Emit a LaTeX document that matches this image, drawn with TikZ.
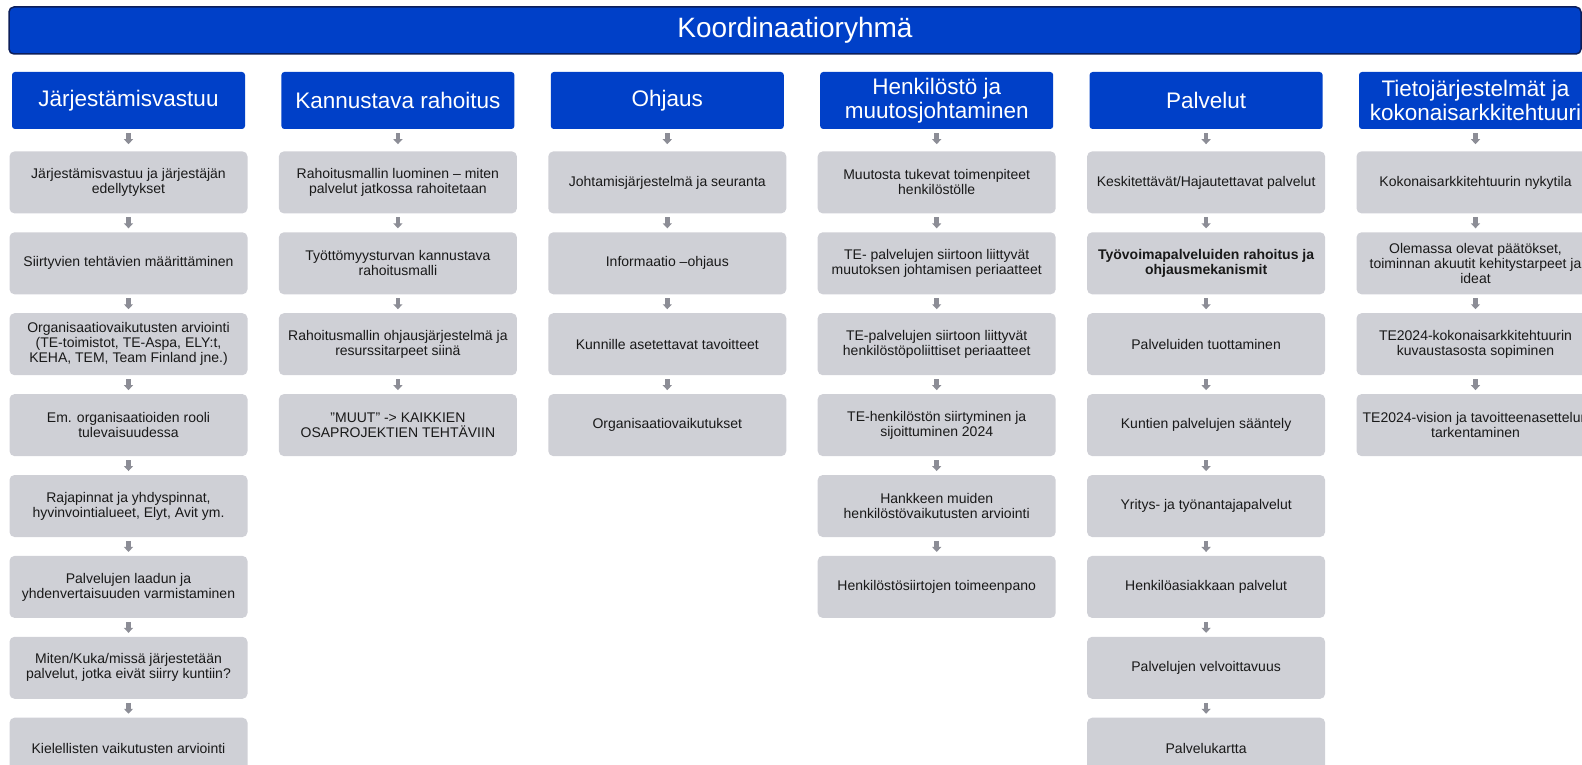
\documentclass[tikz,border=0pt]{standalone}
\usepackage{fontspec}
\setmainfont{Liberation Sans}
\usetikzlibrary{positioning,arrows.meta}
\definecolor{hblue}{RGB}{0,64,200}
\definecolor{hnavy}{RGB}{12,30,90}
\definecolor{boxgray}{RGB}{207,208,214}
\definecolor{arrowgray}{RGB}{140,141,150}
\tikzset{
    banner/.style = {
        fill = hblue,
        draw = hnavy,
        line width = 1.5pt,
        rounded corners = 5pt,
        minimum width = 1572pt,
        minimum height = 47pt,
        text = white,
        font = \fontsize{28}{30}\selectfont,
        },
    head/.style = {
        fill = hblue,
        rounded corners = 3pt,
        minimum width = 233pt,
        minimum height = 57pt,
        inner sep = 0pt,
        align = center,
        text = white,
        font = \fontsize{22.5}{24}\selectfont,
        },
    task/.style = {
        fill = boxgray,
        rounded corners = 5pt,
        minimum width = 238pt,
        minimum height = 62pt,
        inner sep = 0pt,
        align = center,
        text = black!90,
        font = \fontsize{14}{15}\selectfont,
        },
    bold task/.style = {
        task,
        font = \fontsize{14}{15}\selectfont\bfseries,
        },
    link/.style = {
        draw = arrowgray,
        line width = 4.5pt,
        -{Triangle[width=9pt,length=5pt]},
        shorten < = 3.75pt,
        shorten > = 3.75pt,
        },
    head link/.style = {
        link,
        shorten < = 4pt,
        shorten > = 7pt,
        },
}
\begin{document}
\begin{tikzpicture}[x=1pt, y=1pt, node distance=18.5pt]
    \useasboundingbox (0,0) rectangle (1582,-765);

    \node[banner] (kr0) at (795,-30.5) {Koordinaatioryhmä};

    % headers
    \node[head] (jv) at (128.5,-100.5) {Järjestämisvastuu};
    \node[head, right=36pt of jv] (kr) {Kannustava rahoitus};
    \node[head, right=36pt of kr] (oh) {Ohjaus};
    \node[head, right=36pt of oh] (hm) {Henkilöstö ja\\muutosjohtaminen};
    \node[head, right=36pt of hm] (pa) {Palvelut};
    \node[head, right=36pt of pa] (tj) {Tietojärjestelmät ja\\kokonaisarkkitehtuuri};

    % Järjestämisvastuu
    \node[task, below=22pt of jv] (jv1) {Järjestämisvastuu ja järjestäjän\\edellytykset};
    \node[task, below=of jv1] (jv2) {Siirtyvien tehtävien määrittäminen};
    \node[task, below=of jv2] (jv3) {Organisaatiovaikutusten arviointi\\(TE-toimistot, TE-Aspa, ELY:t,\\KEHA, TEM, Team Finland jne.)};
    \node[task, below=of jv3] (jv4) {Em. organisaatioiden rooli\\tulevaisuudessa};
    \node[task, below=of jv4] (jv5) {Rajapinnat ja yhdyspinnat,\\hyvinvointialueet, Elyt, Avit ym.};
    \node[task, below=of jv5] (jv6) {Palvelujen laadun ja\\yhdenvertaisuuden varmistaminen};
    \node[task, below=of jv6] (jv7) {Miten/Kuka/missä järjestetään\\palvelut, jotka eivät siirry kuntiin?};
    \node[task, below=of jv7] (jv8) {Kielellisten vaikutusten arviointi};

    % Kannustava rahoitus
    \node[task, below=22pt of kr] (kr1) {Rahoitusmallin luominen – miten\\palvelut jatkossa rahoitetaan};
    \node[task, below=of kr1] (kr2) {Työttömyysturvan kannustava\\rahoitusmalli};
    \node[task, below=of kr2] (kr3) {Rahoitusmallin ohjausjärjestelmä ja\\resurssitarpeet siinä};
    \node[task, below=of kr3] (kr4) {”MUUT” -> KAIKKIEN\\OSAPROJEKTIEN TEHTÄVIIN};

    % Ohjaus
    \node[task, below=22pt of oh] (oh1) {Johtamisjärjestelmä ja seuranta};
    \node[task, below=of oh1] (oh2) {Informaatio –ohjaus};
    \node[task, below=of oh2] (oh3) {Kunnille asetettavat tavoitteet};
    \node[task, below=of oh3] (oh4) {Organisaatiovaikutukset};

    % Henkilöstö ja muutosjohtaminen
    \node[task, below=22pt of hm] (hm1) {Muutosta tukevat toimenpiteet\\henkilöstölle};
    \node[task, below=of hm1] (hm2) {TE- palvelujen siirtoon liittyvät\\muutoksen johtamisen periaatteet};
    \node[task, below=of hm2] (hm3) {TE-palvelujen siirtoon liittyvät\\henkilöstöpoliittiset periaatteet};
    \node[task, below=of hm3] (hm4) {TE-henkilöstön siirtyminen ja\\sijoittuminen 2024};
    \node[task, below=of hm4] (hm5) {Hankkeen muiden\\henkilöstövaikutusten arviointi};
    \node[task, below=of hm5] (hm6) {Henkilöstösiirtojen toimeenpano};

    % Palvelut
    \node[task, below=22pt of pa] (pa1) {Keskitettävät/Hajautettavat palvelut};
    \node[bold task, below=of pa1] (pa2) {Työvoimapalveluiden rahoitus ja\\ohjausmekanismit};
    \node[task, below=of pa2] (pa3) {Palveluiden tuottaminen};
    \node[task, below=of pa3] (pa4) {Kuntien palvelujen sääntely};
    \node[task, below=of pa4] (pa5) {Yritys- ja työnantajapalvelut};
    \node[task, below=of pa5] (pa6) {Henkilöasiakkaan palvelut};
    \node[task, below=of pa6] (pa7) {Palvelujen velvoittavuus};
    \node[task, below=of pa7] (pa8) {Palvelukartta};

    % Tietojärjestelmät ja kokonaisarkkitehtuuri
    \node[task, below=22pt of tj] (tj1) {Kokonaisarkkitehtuurin nykytila};
    \node[task, below=of tj1] (tj2) {Olemassa olevat päätökset,\\toiminnan akuutit kehitystarpeet ja\\ideat};
    \node[task, below=of tj2] (tj3) {TE2024-kokonaisarkkitehtuurin\\kuvaustasosta sopiminen};
    \node[task, below=of tj3] (tj4) {TE2024-vision ja tavoitteenasettelun\\tarkentaminen};

    % arrows
    \path (jv) edge[head link] (jv1);
    \path (jv1) edge[link] (jv2);
    \path (jv2) edge[link] (jv3);
    \path (jv3) edge[link] (jv4);
    \path (jv4) edge[link] (jv5);
    \path (jv5) edge[link] (jv6);
    \path (jv6) edge[link] (jv7);
    \path (jv7) edge[link] (jv8);

    \path (kr) edge[head link] (kr1);
    \path (kr1) edge[link] (kr2);
    \path (kr2) edge[link] (kr3);
    \path (kr3) edge[link] (kr4);

    \path (oh) edge[head link] (oh1);
    \path (oh1) edge[link] (oh2);
    \path (oh2) edge[link] (oh3);
    \path (oh3) edge[link] (oh4);

    \path (hm) edge[head link] (hm1);
    \path (hm1) edge[link] (hm2);
    \path (hm2) edge[link] (hm3);
    \path (hm3) edge[link] (hm4);
    \path (hm4) edge[link] (hm5);
    \path (hm5) edge[link] (hm6);

    \path (pa) edge[head link] (pa1);
    \path (pa1) edge[link] (pa2);
    \path (pa2) edge[link] (pa3);
    \path (pa3) edge[link] (pa4);
    \path (pa4) edge[link] (pa5);
    \path (pa5) edge[link] (pa6);
    \path (pa6) edge[link] (pa7);
    \path (pa7) edge[link] (pa8);

    \path (tj) edge[head link] (tj1);
    \path (tj1) edge[link] (tj2);
    \path (tj2) edge[link] (tj3);
    \path (tj3) edge[link] (tj4);
\end{tikzpicture}
\end{document}
